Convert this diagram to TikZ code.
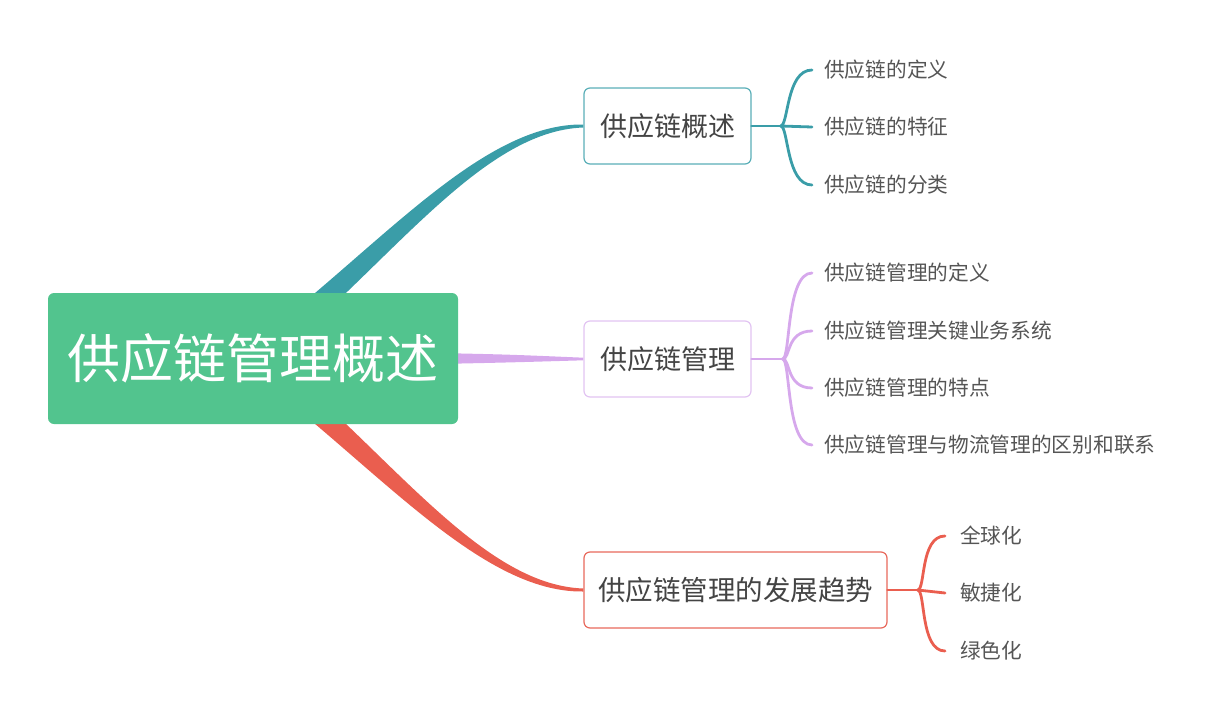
\documentclass[tikz,border=0pt]{standalone}
\usepackage{fontspec}
\newfontfamily\cjk{Noto Sans CJK SC}
\usetikzlibrary{calc,backgrounds}
\definecolor{tealc}{HTML}{3A9DA8}
\definecolor{tealb}{HTML}{5AAFB8}
\definecolor{purpc}{HTML}{D6A8EC}
\definecolor{purpb}{HTML}{E2C4F2}
\definecolor{redc}{HTML}{EA5E4F}
\definecolor{redb}{HTML}{E8695C}
\definecolor{rootc}{HTML}{52C48E}
\definecolor{txtc}{HTML}{444444}
\definecolor{leaftxt}{HTML}{555555}
\tikzset{
  rootbox/.style={fill=rootc, rounded corners=6pt, minimum width=410pt, minimum height=131pt, inner sep=0pt,
    text=white, font=\cjk\fontsize{53}{60}\selectfont},
  subbox/.style={draw=#1, line width=1.2pt, fill=white, rounded corners=6pt, minimum height=76pt, inner sep=0pt,
    text=txtc},
  leaf/.style={anchor=west, inner sep=0pt, text=leaftxt, font=\cjk\fontsize{20.7}{24}\selectfont},
  twig/.style={draw=#1, line width=2.8pt, line cap=round},
}
\begin{document}
\begin{tikzpicture}[x=1pt,y=-1pt]
\useasboundingbox (0,0) rectangle (1224,720);
% nodes
\node[rootbox] (root) at (253,358.5) {供应链管理概述};
\node[subbox=tealb, minimum width=167pt, font=\cjk\fontsize{27}{30}\selectfont] (b1) at (667.5,126) {供应链概述};
\node[subbox=purpb, minimum width=167pt, font=\cjk\fontsize{27}{30}\selectfont] (b2) at (667.5,359) {供应链管理};
\node[subbox=redb, minimum width=303pt, font=\cjk\fontsize{27.5}{31}\selectfont] (b3) at (735.5,590) {供应链管理的发展趋势};
% leaves
\node[leaf] (l11) at (824,70) {供应链的定义};
\node[leaf] (l12) at (824,127) {供应链的特征};
\node[leaf] (l13) at (824,185) {供应链的分类};
\node[leaf] (l21) at (824,273) {供应链管理的定义};
\node[leaf] (l22) at (824,331) {供应链管理关键业务系统};
\node[leaf] (l23) at (824,388) {供应链管理的特点};
\node[leaf] (l24) at (824,445) {供应链管理与物流管理的区别和联系};
\node[leaf] (l31) at (960,536) {全球化};
\node[leaf] (l32) at (960,593) {敏捷化};
\node[leaf] (l33) at (960,651) {绿色化};
% fork points
\coordinate (f1) at ($(b1.east)+(29,0)$);
\coordinate (f2) at ($(b2.east)+(31,0)$);
\coordinate (f3) at ($(b3.east)+(30,0)$);
\begin{scope}[on background layer]
% main tapered connectors
\fill[tealc] ($(root.center)+(-7,-10)$) .. controls ($(root.center)+(121.5,-105.5)$) and ($(b1.west)+(-104,-3)$) .. ($(b1.west)+(0,-1.5)$)
  -- ($(b1.west)+(0,1.5)$) .. controls ($(b1.west)+(-104,5)$) and ($(root.center)+(134,-90)$) .. ($(root.center)+(8,10)$) -- cycle;
\fill[redc] ($(root.center)+(-7,10)$) .. controls ($(root.center)+(121.5,105.5)$) and ($(b3.west)+(-104,3)$) .. ($(b3.west)+(0,1.5)$)
  -- ($(b3.west)+(0,-1.5)$) .. controls ($(b3.west)+(-104,-5)$) and ($(root.center)+(134,90)$) .. ($(root.center)+(8,-10)$) -- cycle;
\fill[purpc] ($(root.east)+(-20,-5.5)$) .. controls ($(root.east)+(50,-4)$) .. ($(b2.west)+(0,-1.3)$)
  -- ($(b2.west)+(0,1.3)$) .. controls ($(root.east)+(50,4)$) .. ($(root.east)+(-20,5.5)$) -- cycle;
\end{scope}
% twigs branch 1
\draw[twig=tealc] (b1.east) -- (f1);
\draw[twig=tealc] (f1) .. controls +(8,0) and ($(l11.west)+(-38,0)$) .. ($(l11.west)+(-12,0)$);
\draw[twig=tealc] (f1) -- ($(l12.west)+(-12,0)$);
\draw[twig=tealc] (f1) .. controls +(8,0) and ($(l13.west)+(-38,0)$) .. ($(l13.west)+(-12,0)$);
% twigs branch 2
\draw[twig=purpc] (b2.east) -- (f2);
\draw[twig=purpc] (f2) .. controls +(8,0) and ($(l21.west)+(-38,0)$) .. ($(l21.west)+(-12,0)$);
\draw[twig=purpc] (f2) .. controls +(8,0) and ($(l22.west)+(-38,0)$) .. ($(l22.west)+(-12,0)$);
\draw[twig=purpc] (f2) .. controls +(8,0) and ($(l23.west)+(-38,0)$) .. ($(l23.west)+(-12,0)$);
\draw[twig=purpc] (f2) .. controls +(8,0) and ($(l24.west)+(-38,0)$) .. ($(l24.west)+(-12,0)$);
% twigs branch 3
\draw[twig=redc] (b3.east) -- (f3);
\draw[twig=redc] (f3) .. controls +(8,0) and ($(l31.west)+(-40,0)$) .. ($(l31.west)+(-15,0)$);
\draw[twig=redc] (f3) -- ($(l32.west)+(-15,0)$);
\draw[twig=redc] (f3) .. controls +(8,0) and ($(l33.west)+(-40,0)$) .. ($(l33.west)+(-15,0)$);
\end{tikzpicture}
\end{document}
